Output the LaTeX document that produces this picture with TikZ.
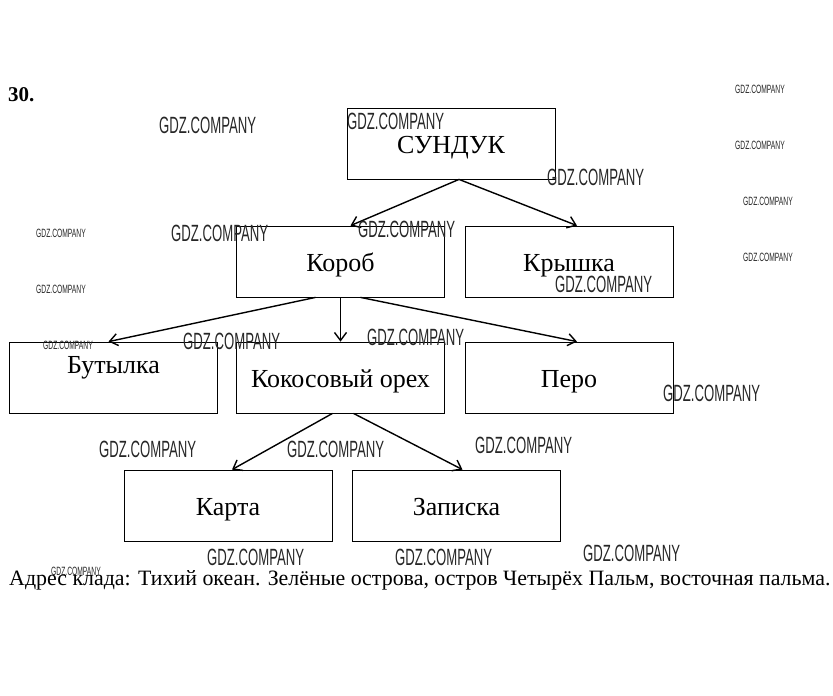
\documentclass[tikz,border=0pt]{standalone}
\usepackage{fontspec}
\setmainfont{Liberation Serif}
\newfontfamily\wmfont[FakeStretch=0.56]{Liberation Sans}
\usetikzlibrary{arrows.meta}
\tikzset{
  blok/.style={draw, line width=0.8pt, minimum width=208pt, minimum height=71pt, inner sep=0pt,
    text height=20pt, text depth=0pt, font=\fontsize{26}{30}\selectfont},
  strelka/.style={line width=1.4pt, -{Straight Barb[length=8pt,width=12pt]}},
  wmbig/.style={anchor=west, inner sep=0pt, text=black!85, font=\wmfont\fontsize{23.5}{24}\selectfont},
  wmsmall/.style={anchor=west, inner sep=0pt, text=black!85, font=\wmfont\fontsize{12}{12}\selectfont}
}
\begin{document}
\begin{tikzpicture}[x=1pt,y=-1pt]
\useasboundingbox (0,0) rectangle (833,696);
\node[anchor=west, inner sep=0pt, font=\bfseries\fontsize{21}{24}\selectfont] (nomer) at (8,95) {30.};
\node[blok] (sunduk) at (451,143.5) {СУНДУК};
\node[blok] (korob) at (340.5,261.5) {Короб};
\node[blok] (kryshka) at (569,261.5) {Крышка};
\node[blok] (butylka) at (113.5,377.5) {\raisebox{14.5pt}{Бутылка}};
\node[blok] (orekh) at (340.5,377.5) {Кокосовый орех};
\node[blok] (pero) at (569,377.5) {Перо};
\node[blok] (karta) at (228,505.5) {Карта};
\node[blok] (zapiska) at (456.5,505.5) {Записка};
\draw[strelka] ([xshift=8pt]sunduk.south) -- ([xshift=10pt]korob.north);
\draw[strelka] ([xshift=8pt]sunduk.south) -- ([xshift=8pt]kryshka.north);
\draw[strelka] ([xshift=-25pt]korob.south) -- ([xshift=-5pt]butylka.north);
\draw[strelka] (korob.south) -- (orekh.north);
\draw[strelka] ([xshift=20pt]korob.south) -- ([xshift=8pt]pero.north);
\draw[strelka] ([xshift=-8pt]orekh.south) -- ([xshift=4pt]karta.north);
\draw[strelka] ([xshift=13pt]orekh.south) -- ([xshift=6pt]zapiska.north);
\node[anchor=west, inner sep=0pt, font=\fontsize{21.9}{24}\selectfont] (adres) at (9,580)
  {Адрес клада: Тихий океан. Зелёные острова, остров Четырёх Пальм, восточная пальма.};
\foreach \x/\y [count=\i] in {159/125, 347/121, 547/177, 171/233, 358/229, 555/284, 183/341, 367/337,
  663/393, 99/449, 287/449, 475/445, 207/557, 395/557, 583/553}
  \node[wmbig] (wm\i) at (\x,\y) {GDZ.COMPANY};
\foreach \x/\y [count=\i] in {735/89, 735/145, 743/201, 743/257, 36/233, 36/289, 43/345, 51/571}
  \node[wmsmall] (wms\i) at (\x,\y) {GDZ.COMPANY};
\end{tikzpicture}
\end{document}
